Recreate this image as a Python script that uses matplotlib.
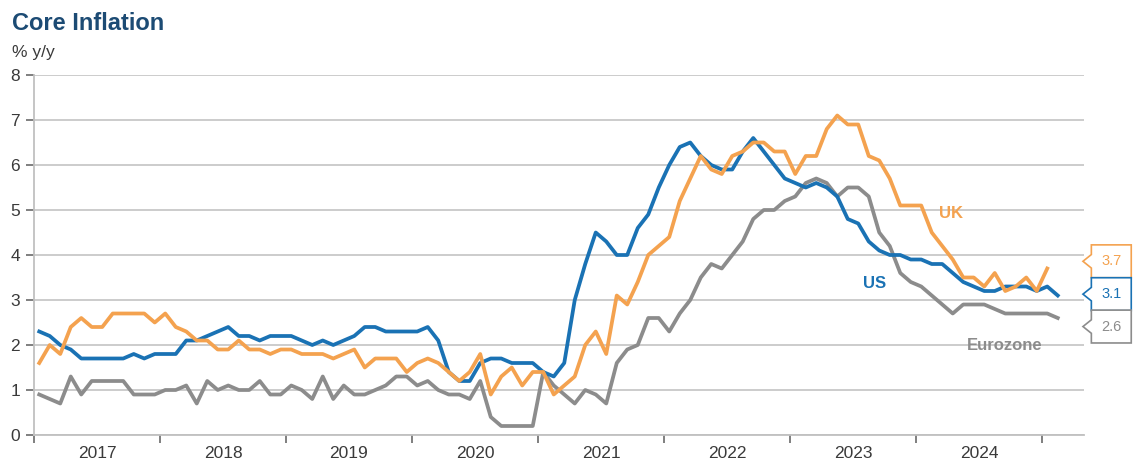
import matplotlib
matplotlib.use("Agg")
import matplotlib.pyplot as plt
from matplotlib.patches import Polygon
import numpy as np

plt.rcParams['font.family'] = ['Liberation Sans', 'DejaVu Sans']

# monthly core inflation, % y/y, from Jan 2017
us = [2.3, 2.2, 2.0, 1.9, 1.7, 1.7, 1.7, 1.7, 1.7, 1.8, 1.7, 1.8,
      1.8, 1.8, 2.1, 2.1, 2.2, 2.3, 2.4, 2.2, 2.2, 2.1, 2.2, 2.2,
      2.2, 2.1, 2.0, 2.1, 2.0, 2.1, 2.2, 2.4, 2.4, 2.3, 2.3, 2.3,
      2.3, 2.4, 2.1, 1.4, 1.2, 1.2, 1.6, 1.7, 1.7, 1.6, 1.6, 1.6,
      1.4, 1.3, 1.6, 3.0, 3.8, 4.5, 4.3, 4.0, 4.0, 4.6, 4.9, 5.5,
      6.0, 6.4, 6.5, 6.2, 6.0, 5.9, 5.9, 6.3, 6.6, 6.3, 6.0, 5.7,
      5.6, 5.5, 5.6, 5.5, 5.3, 4.8, 4.7, 4.3, 4.1, 4.0, 4.0, 3.9,
      3.9, 3.8, 3.8, 3.6, 3.4, 3.3, 3.2, 3.2, 3.3, 3.3, 3.3, 3.2,
      3.3, 3.1]
uk = [1.6, 2.0, 1.8, 2.4, 2.6, 2.4, 2.4, 2.7, 2.7, 2.7, 2.7, 2.5,
      2.7, 2.4, 2.3, 2.1, 2.1, 1.9, 1.9, 2.1, 1.9, 1.9, 1.8, 1.9,
      1.9, 1.8, 1.8, 1.8, 1.7, 1.8, 1.9, 1.5, 1.7, 1.7, 1.7, 1.4,
      1.6, 1.7, 1.6, 1.4, 1.2, 1.4, 1.8, 0.9, 1.3, 1.5, 1.1, 1.4,
      1.4, 0.9, 1.1, 1.3, 2.0, 2.3, 1.8, 3.1, 2.9, 3.4, 4.0, 4.2,
      4.4, 5.2, 5.7, 6.2, 5.9, 5.8, 6.2, 6.3, 6.5, 6.5, 6.3, 6.3,
      5.8, 6.2, 6.2, 6.8, 7.1, 6.9, 6.9, 6.2, 6.1, 5.7, 5.1, 5.1,
      5.1, 4.5, 4.2, 3.9, 3.5, 3.5, 3.3, 3.6, 3.2, 3.3, 3.5, 3.2,
      3.7]
ez = [0.9, 0.8, 0.7, 1.3, 0.9, 1.2, 1.2, 1.2, 1.2, 0.9, 0.9, 0.9,
      1.0, 1.0, 1.1, 0.7, 1.2, 1.0, 1.1, 1.0, 1.0, 1.2, 0.9, 0.9,
      1.1, 1.0, 0.8, 1.3, 0.8, 1.1, 0.9, 0.9, 1.0, 1.1, 1.3, 1.3,
      1.1, 1.2, 1.0, 0.9, 0.9, 0.8, 1.2, 0.4, 0.2, 0.2, 0.2, 0.2,
      1.4, 1.1, 0.9, 0.7, 1.0, 0.9, 0.7, 1.6, 1.9, 2.0, 2.6, 2.6,
      2.3, 2.7, 3.0, 3.5, 3.8, 3.7, 4.0, 4.3, 4.8, 5.0, 5.0, 5.2,
      5.3, 5.6, 5.7, 5.6, 5.3, 5.5, 5.5, 5.3, 4.5, 4.2, 3.6, 3.4,
      3.3, 3.1, 2.9, 2.7, 2.9, 2.9, 2.9, 2.8, 2.7, 2.7, 2.7, 2.7,
      2.7, 2.6]
years = [2017, 2018, 2019, 2020, 2021, 2022, 2023, 2024]

C_US = '#1a72b4'
C_UK = '#f4a24f'
C_EZ = '#8c8c8c'
TXT = '#3a3a3a'
GRID = '#c8c8c8'

fig = plt.figure(figsize=(11.38, 4.61), dpi=100)
ax = fig.add_axes([34 / 1138, 26 / 461, 1050 / 1138, 360 / 461])

def months(series):
    return np.arange(len(series)) + 0.5

ax.plot(months(ez), ez, color=C_EZ, lw=2.7, solid_joinstyle='round', zorder=3)
ax.plot(months(us), us, color=C_US, lw=2.7, solid_joinstyle='round', zorder=4)
ax.plot(months(uk), uk, color=C_UK, lw=2.7, solid_joinstyle='round', zorder=5)

ax.set_xlim(0, 100)
ax.set_ylim(0, 8)
ax.set_yticks(range(0, 9))
ax.set_xticks([12 * i for i in range(len(years) + 1)])
ax.set_xticklabels([])
ax.set_xticks([12 * i + 6 for i in range(len(years))], minor=True)
ax.set_xticklabels([str(y) for y in years], minor=True)
ax.tick_params(axis='x', which='major', length=6, width=1.2, color='#6a6a6a', direction='out')
ax.tick_params(axis='x', which='minor', length=0, pad=8, labelsize=12.5, labelcolor=TXT)
ax.tick_params(axis='y', length=6, width=1.2, color='#6a6a6a', pad=4, labelsize=12.5, labelcolor=TXT)

ax.grid(axis='y', color=GRID, lw=1.3)
ax.set_axisbelow(True)
for s in ['top', 'right']:
    ax.spines[s].set_visible(False)
for s in ['left', 'bottom']:
    ax.spines[s].set_color('#c0c0c0')
    ax.spines[s].set_linewidth(1.3)

# series labels
ax.text(87.3, 4.93, 'UK', color=C_UK, fontsize=12, weight='bold', ha='center', va='center')
ax.text(80.1, 3.36, 'US', color=C_US, fontsize=12, weight='bold', ha='center', va='center')
ax.text(92.4, 2.0, 'Eurozone', color=C_EZ, fontsize=12, weight='bold', ha='center', va='center')

# last-value callouts on the right
box_centers = [3.86, 3.13, 2.41]
for last, col, yc in zip([uk[-1], us[-1], ez[-1]], [C_UK, C_US, C_EZ], box_centers):
    x0, x1, tip = 100.7, 104.5, 99.9
    h = 0.365
    verts = [(x0, yc + h), (x1, yc + h), (x1, yc - h), (x0, yc - h),
             (x0, yc - 0.15), (tip, yc), (x0, yc + 0.15)]
    ax.add_patch(Polygon(verts, closed=True, facecolor='white', edgecolor=col,
                         lw=1.2, clip_on=False, zorder=6))
    ax.text((x0 + x1) / 2, yc, f'{last:.1f}', color=col, fontsize=10.5,
            ha='center', va='center', zorder=7)

fig.text(12 / 1138, 1 - 23 / 461, 'Core Inflation', color='#1c4b74', fontsize=17,
         weight='bold', ha='left', va='center')
fig.text(12 / 1138, 1 - 52 / 461, '% y/y', color=TXT, fontsize=12.5, ha='left', va='center')

fig.savefig('out.png', dpi=100, facecolor='white')
